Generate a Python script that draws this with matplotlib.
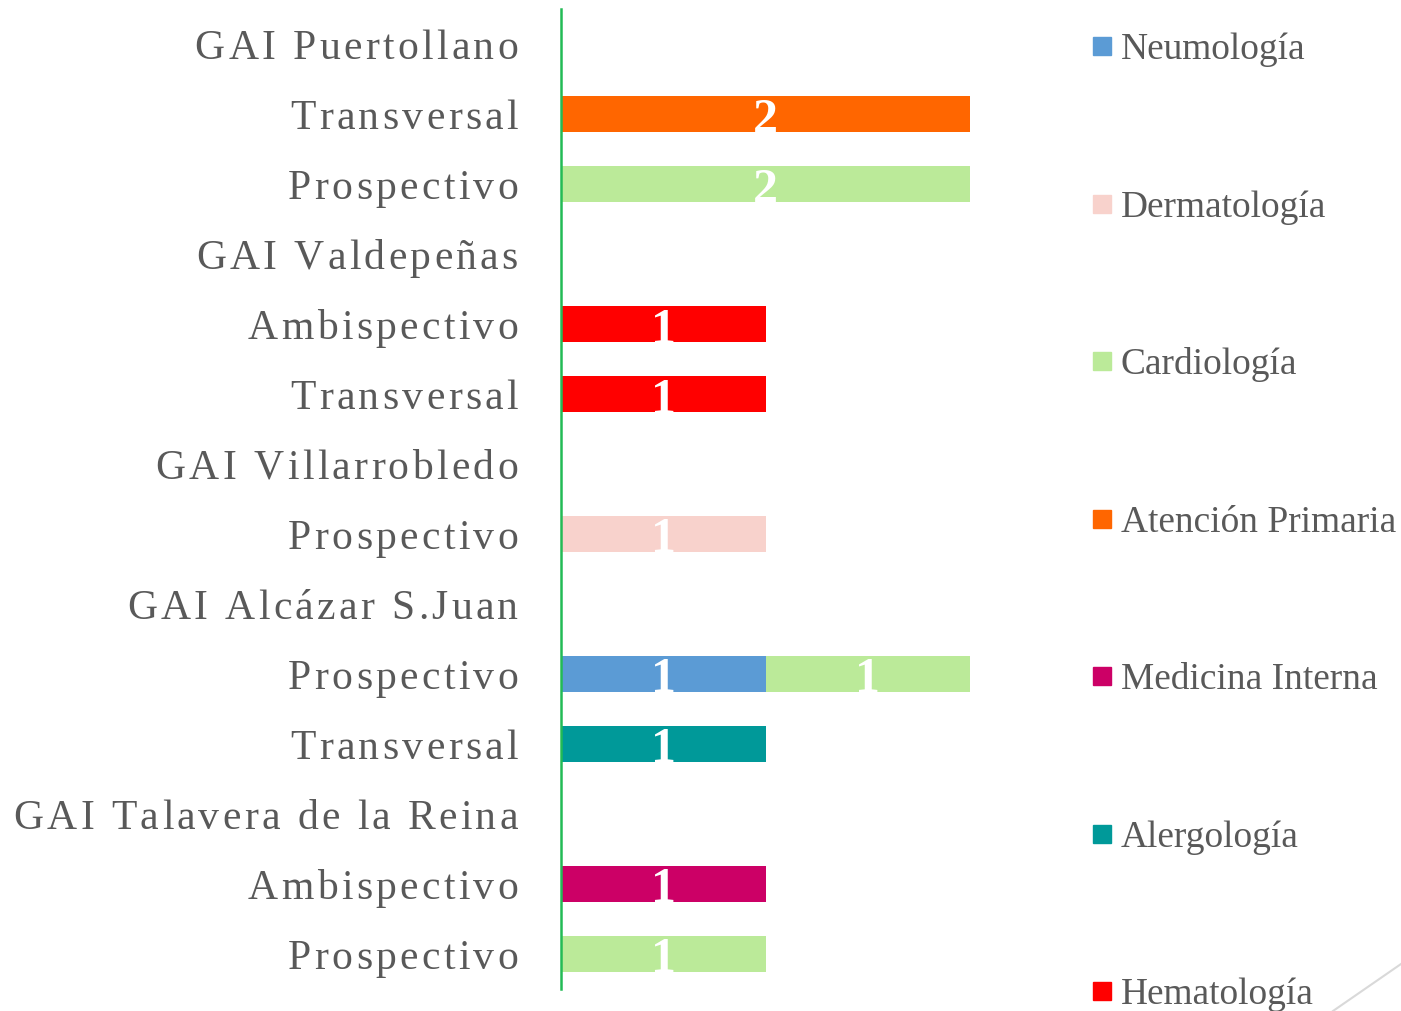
import matplotlib
matplotlib.use('Agg')
import matplotlib.pyplot as plt
from matplotlib import font_manager
from matplotlib.font_manager import FontProperties, get_font
from matplotlib.transforms import offset_copy
from matplotlib.patches import Rectangle
from matplotlib.lines import Line2D

try:
    from matplotlib.ft2font import LoadFlags
    NO_HINT = LoadFlags.NO_HINTING
except ImportError:
    from matplotlib.ft2font import LOAD_NO_HINTING as NO_HINT

# --- data (top to bottom) ---
rows = ['GAI Puertollano', 'Transversal', 'Prospectivo',
        'GAI Valdepeñas', 'Ambispectivo', 'Transversal',
        'GAI Villarrobledo', 'Prospectivo',
        'GAI Alcázar S.Juan', 'Prospectivo', 'Transversal',
        'GAI Talavera de la Reina', 'Ambispectivo', 'Prospectivo']

specialties = ['Neumología', 'Dermatología', 'Cardiología', 'Atención Primaria',
               'Medicina Interna', 'Alergología', 'Hematología']
colors = ['#5B9BD5', '#F8D2CC', '#BBEA99', '#FF6600', '#CC0066', '#009999', '#FF0000']

neumologia        = [0, 0, 0, 0, 0, 0, 0, 0, 0, 1, 0, 0, 0, 0]
dermatologia      = [0, 0, 0, 0, 0, 0, 0, 1, 0, 0, 0, 0, 0, 0]
cardiologia       = [0, 0, 2, 0, 0, 0, 0, 0, 0, 1, 0, 0, 0, 1]
atencion_primaria = [0, 2, 0, 0, 0, 0, 0, 0, 0, 0, 0, 0, 0, 0]
medicina_interna  = [0, 0, 0, 0, 0, 0, 0, 0, 0, 0, 0, 0, 1, 0]
alergologia       = [0, 0, 0, 0, 0, 0, 0, 0, 0, 0, 1, 0, 0, 0]
hematologia       = [0, 0, 0, 0, 1, 1, 0, 0, 0, 0, 0, 0, 0, 0]

series = [neumologia, dermatologia, cardiologia, atencion_primaria,
          medicina_interna, alergologia, hematologia]

TEXT = '#595959'
W, H = 1401, 1012


def spaced_label(ax, y, text, fp, spacing_pt, pad_pt):
    """Right-aligned label left of the axis, with extra letter spacing."""
    font = get_font(font_manager.findfont(fp))
    size = fp.get_size_in_points()
    font.set_size(size, 72)
    advs = []
    for ch in text:
        g = font.load_char(ord(ch), flags=NO_HINT)
        advs.append(g.linearHoriAdvance / 65536)
    total = sum(advs) + spacing_pt * (len(text) - 1)
    x = -pad_pt - total
    base = ax.get_yaxis_transform()
    for ch, a in zip(text, advs):
        tr = offset_copy(base, fig=ax.figure, x=x, y=-0.331 * size, units='points')
        ax.text(0, y, ch, transform=tr, fontproperties=fp, color=TEXT,
                ha='left', va='baseline', clip_on=False)
        x += a + spacing_pt


fig = plt.figure(figsize=(W / 100, H / 100), dpi=100)
ax = fig.add_axes([561 / W, 22 / H, 409 / W, 980 / H])

ypos = list(range(len(rows)))
left = [0] * len(rows)
val_fp = FontProperties(family='Liberation Serif', weight='bold', size=36)
for name, vals, col in zip(specialties, series, colors):
    ax.barh(ypos, vals, left=left, height=0.52, color=col, label=name)
    for i, v in enumerate(vals):
        if v > 0:
            ax.text(left[i] + v / 2, i + 0.25, str(v), ha='center', va='baseline',
                    color='white', fontproperties=val_fp)
    left = [l + v for l, v in zip(left, vals)]

ax.set_xlim(0, 2)
ax.set_ylim(len(rows) - 0.5, -0.5)
ax.set_xticks([])
ax.set_yticks([])
for s in ['top', 'right', 'bottom']:
    ax.spines[s].set_visible(False)
ax.spines['left'].set_color('#22BB55')
ax.spines['left'].set_linewidth(1.8)

lab_fp = FontProperties(family='Liberation Serif', size=30)
for i, r in enumerate(rows):
    spaced_label(ax, i, r, lab_fp, spacing_pt=2.4, pad_pt=31)

# legend, drawn by hand to match the wide spacing
leg_fp = FontProperties(family='Liberation Serif', size=26.9)
for k, (name, col) in enumerate(zip(specialties, colors)):
    yc = 47 + 157.5 * k
    fig.patches.append(Rectangle((1093 / W, 1 - (yc + 9) / H), 18 / W, 18 / H,
                                 transform=fig.transFigure, color=col))
    fig.text(1121 / W, 1 - (yc + 12.2) / H, name, fontproperties=leg_fp,
             color=TEXT, ha='left', va='baseline')

# decorative corner line
fig.lines.append(Line2D([1333 / W, 1.0], [0.0, 47 / H], transform=fig.transFigure,
                        color='#D9D9D9', lw=1.5))

fig.savefig('out.png', dpi=100)
